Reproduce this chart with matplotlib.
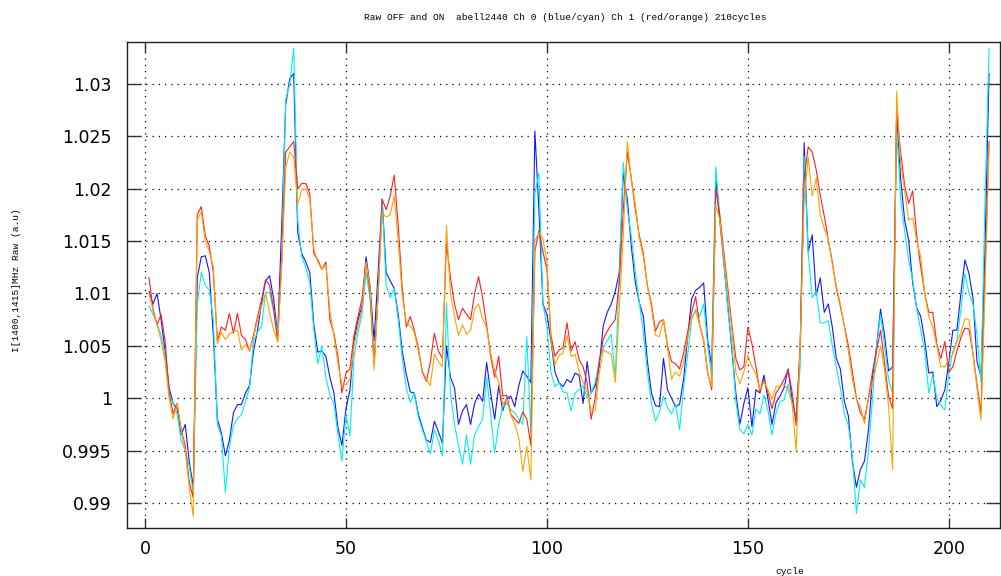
import numpy as np
import matplotlib
matplotlib.use('Agg')
import matplotlib.pyplot as plt

# intensity per cycle, stored as deviation from 1.0 in parts per thousand
ch0_off = [10.2, 9.0, 10.0, 7.5, 4.5, 1.0, -0.5, -1.0, -3.5, -2.5,
           -6.0, -8.5, 11.5, 13.5, 13.6, 12.0, 6.0, -2.0, -3.3, -5.5,
           -4.0, -1.4, -0.6, -0.6, 0.5, 1.2, 4.5, 6.5, 9.1, 11.2,
           11.7, 9.5, 6.0, 16.4, 28.0, 30.5, 31.0, 15.8, 13.8, 13.0,
           12.0, 7.0, 4.4, 4.5, 4.0, 2.0, 0.5, -2.8, -4.5, -1.0,
           0.8, 5.5, 7.5, 8.8, 13.5, 10.7, 5.5, 12.0, 19.0, 12.0,
           11.2, 10.5, 8.0, 4.5, 2.3, 0.6, 0.5, -1.5, -2.8, -4.0,
           -4.2, -2.2, -3.2, -4.3, 5.0, 2.0, 1.0, -2.5, -1.2, -0.6,
           -2.5, -0.5, 0.4, -0.3, 3.4, 0.5, -2.0, 1.2, -1.2, 0.0,
           0.2, -0.8, 1.2, 2.6, 2.1, 1.5, 25.5, 18.0, 9.0, 8.0,
           5.5, 2.5, 1.5, 1.1, 1.8, 1.5, 2.4, 2.2, -0.5, 3.5,
           0.5, 1.2, 3.0, 6.9, 8.2, 9.0, 10.2, 12.0, 21.5, 19.0,
           14.5, 11.0, 9.1, 7.8, 3.5, 0.5, -0.7, -0.8, 3.8, 0.8,
           0.0, -0.8, -0.6, 1.8, 5.8, 9.5, 10.3, 10.6, 11.0, 5.5,
           3.0, 21.0, 17.0, 13.0, 8.8, 4.7, 0.5, -2.5, -0.5, 1.0,
           -2.7, 0.8, 0.5, 2.2, -0.1, -2.5, -0.4, 0.2, 1.0, 2.8,
           -0.1, -2.0, 4.5, 24.4, 14.0, 15.6, 9.8, 11.5, 8.2, 9.0,
           6.8, 3.8, 2.8, -0.3, -1.7, -6.0, -8.5, -6.8, -6.0, -3.0,
           2.0, 4.9, 8.5, 6.0, 2.6, 3.0, 27.0, 21.0, 17.0, 15.1,
           11.0, 8.6, 7.8, 5.5, 2.4, 2.5, -0.8, -0.2, 0.8, 3.5,
           6.5, 6.5, 10.0, 13.2, 11.9, 9.6, 3.5, 2.1, 14.5, 31.0]

ch0_on = [8.8, 8.0, 7.2, 6.0, 4.0, 0.5, -0.5, -1.5, -4.0, -5.0,
          -6.5, -9.0, 9.0, 12.0, 10.8, 10.3, 7.5, -2.5, -3.6, -9.0,
          -4.6, -2.6, -1.9, -1.6, -0.3, 1.0, 5.5, 6.3, 6.9, 10.1,
          10.1, 8.3, 6.2, 13.2, 28.5, 30.0, 33.4, 17.0, 13.5, 12.5,
          11.0, 6.5, 3.3, 5.0, 2.0, 0.3, -0.5, -3.5, -6.0, -1.6,
          -3.6, 4.0, 6.3, 8.0, 12.0, 9.5, 3.7, 10.0, 19.0, 10.8,
          9.6, 10.5, 7.5, 3.8, 1.0, -0.4, 0.5, -1.8, -3.0, -4.1,
          -5.3, -3.0, -4.0, -5.5, 9.1, 0.5, -2.5, -4.5, -6.3, -3.5,
          -6.3, -3.5, -2.7, -2.0, 2.0, -1.5, -5.2, -2.5, -0.8, -0.5,
          -1.1, -1.4, -2.0, -2.5, 5.9, -3.3, 19.5, 21.5, 9.0, 6.8,
          2.5, 1.1, 1.5, 0.6, 0.5, -1.2, 0.5, 0.8, 1.2, 0.0,
          0.5, 1.5, 3.5, 4.8, 5.5, 6.1, 2.0, 12.0, 22.5, 18.0,
          15.5, 12.0, 9.1, 6.2, 2.5, -0.5, -2.2, -1.3, 0.2, -0.9,
          -1.5, -0.6, -3.0, 1.0, 4.1, 7.5, 8.5, 7.8, 9.0, 5.0,
          2.0, 22.1, 17.5, 13.2, 8.5, 5.2, -0.3, -3.0, -3.4, -2.5,
          -3.5, -1.0, -1.5, 0.3, -1.2, -3.5, -1.4, -0.3, -0.2, 1.3,
          -0.5, -2.0, 3.0, 23.1, 13.9, 9.6, 10.2, 7.2, 7.2, 7.4,
          5.0, 3.0, 1.0, -1.5, -2.6, -5.5, -11.0, -7.8, -8.5, -5.0,
          0.0, 4.9, 8.0, 5.0, 1.8, 0.5, 25.9, 19.0, 16.0, 13.2,
          11.3, 8.5, 6.5, 4.5, 0.5, 2.2, 0.0, -0.7, -1.1, 2.4,
          4.5, 5.5, 8.5, 11.9, 10.0, 9.0, 6.0, 1.5, 19.0, 33.4]

ch1_off = [11.5, 8.5, 7.0, 8.0, 5.5, 0.5, -1.5, -0.5, -3.0, -4.5,
           -8.0, -9.5, 17.5, 18.3, 15.5, 14.5, 12.0, 5.5, 6.8, 6.5,
           8.1, 6.2, 8.1, 6.0, 5.6, 4.5, 6.0, 7.8, 9.4, 11.3,
           10.8, 8.5, 5.4, 13.2, 23.5, 24.0, 24.5, 20.0, 20.5, 20.5,
           19.5, 13.8, 13.2, 12.3, 13.0, 7.5, 6.2, 4.0, 0.5, 2.4,
           2.8, 6.0, 7.8, 9.5, 13.0, 10.0, 3.2, 10.0, 19.0, 18.0,
           19.3, 21.3, 16.5, 10.5, 6.8, 7.8, 6.5, 4.8, 2.5, 1.6,
           3.5, 6.2, 4.5, 3.8, 14.8, 11.5, 9.0, 7.5, 8.6, 8.0,
           7.5, 10.0, 11.6, 9.6, 7.0, 4.0, 2.0, 4.0, 0.2, 0.3,
           -1.5, -2.0, -2.4, -1.3, -2.0, -4.5, 14.0, 16.0, 14.0, 12.3,
           6.0, 4.0, 4.6, 4.8, 7.2, 4.5, 5.4, 3.7, 3.0, 1.5,
           -2.0, 0.0, 3.5, 5.6, 6.4, 7.0, 7.5, 11.0, 18.0, 23.5,
           21.0, 18.0, 15.5, 13.8, 10.7, 9.0, 6.4, 7.3, 7.5, 5.0,
           3.5, 3.3, 2.8, 4.3, 6.3, 8.2, 9.7, 7.0, 5.5, 2.5,
           0.8, 20.0, 17.5, 14.0, 10.5, 7.0, 3.8, 2.7, 3.0, 6.8,
           5.2, 3.0, 0.6, 1.8, 0.5, -1.0, 0.5, 1.1, 1.8, 2.7,
           0.6, -2.6, 5.0, 21.0, 24.0, 23.5, 21.8, 19.4, 17.4, 15.1,
           13.0, 10.5, 8.8, 6.9, 5.0, 2.5, 0.0, -1.4, -2.0, 0.0,
           2.5, 4.5, 6.5, 3.4, 0.2, -1.0, 27.5, 23.5, 20.3, 18.6,
           19.8, 15.5, 12.5, 10.0, 8.2, 8.2, 5.2, 3.8, 5.4, 2.5,
           3.0, 4.5, 5.8, 6.7, 6.6, 4.3, 1.3, -1.4, 12.0, 24.5]

ch1_on = [10.0, 8.3, 7.0, 5.5, 3.5, 0.0, -2.0, -0.5, -3.0, -5.0,
          -8.5, -11.3, 17.0, 17.8, 15.0, 14.0, 12.5, 5.2, 6.3, 5.6,
          6.1, 6.4, 6.5, 4.6, 5.1, 4.6, 5.8, 7.5, 8.8, 10.0,
          8.2, 6.5, 5.4, 12.5, 22.0, 23.5, 23.0, 18.5, 19.9, 20.0,
          19.0, 14.3, 13.0, 12.3, 12.8, 8.3, 6.0, 3.3, 1.3, 1.3,
          1.8, 5.0, 6.9, 8.5, 13.0, 10.7, 2.7, 10.0, 17.7, 17.3,
          17.5, 19.3, 15.0, 9.8, 7.3, 6.9, 6.3, 4.5, 2.6, 1.8,
          1.2, 4.2, 3.5, 3.0, 16.5, 10.0, 7.8, 6.0, 7.0, 6.1,
          6.5, 8.5, 9.0, 7.6, 6.7, 4.3, 2.6, 1.5, -0.6, -0.1,
          -1.6, -2.5, -3.8, -7.0, -4.6, -7.8, 15.0, 15.8, 15.2, 13.0,
          5.5, 3.2, 4.1, 4.3, 6.0, 4.0, 4.2, 2.6, 1.5, 0.6,
          -1.2, -1.2, 2.3, 4.6, 4.4, 4.2, 1.5, 8.5, 15.5, 24.5,
          20.8, 18.5, 15.2, 13.5, 10.7, 8.7, 6.0, 5.9, 7.5, 4.8,
          1.8, 2.5, 2.1, 3.4, 5.8, 7.7, 8.3, 7.0, 5.6, 2.3,
          1.1, 18.5, 17.0, 13.5, 10.0, 6.5, 2.5, 1.4, 2.5, 4.1,
          3.0, 2.3, 0.8, 1.6, 0.8, -0.1, 1.1, 1.2, 1.3, 0.8,
          -0.5, -5.0, 5.0, 19.0, 23.0, 19.3, 21.0, 17.5, 16.2, 15.2,
          12.8, 10.7, 9.0, 6.8, 4.5, 1.8, -0.1, -0.8, -2.4, -0.1,
          1.5, 3.2, 5.0, 2.7, -0.8, -6.8, 29.3, 22.4, 19.8, 17.0,
          17.2, 15.0, 13.5, 10.0, 7.8, 6.8, 5.0, 3.0, 3.0, 3.7,
          4.2, 5.4, 6.3, 7.6, 7.5, 4.2, 1.0, -2.1, 10.5, 24.0]

yticks = [0.99, 0.995, 1.0, 1.005, 1.01, 1.015, 1.02, 1.025, 1.03]
ytick_labels = ['0.99', '0.995', '1', '1.005', '1.01', '1.015', '1.02', '1.025', '1.03']
xticks = [0, 50, 100, 150, 200]

title = 'Raw OFF and ON  abell2440 Ch 0 (blue/cyan) Ch 1 (red/orange) 210cycles'

cycles = np.arange(1, len(ch0_off) + 1)

fig = plt.figure(figsize=(10.01, 5.76), dpi=100)
ax = fig.add_axes([127 / 1001, 1 - 528 / 576, 872.5 / 1001, 486 / 576])

series = [(ch0_off, '#1515ff'), (ch0_on, '#00f0f0'),
          (ch1_off, '#ff2020'), (ch1_on, '#ffa200')]
for vals, col in series:
    ax.plot(cycles, 1 + np.array(vals) / 1000.0, color=col, lw=0.8)

ax.set_xlim(-4.48, 212.6)
ax.set_ylim(0.98761, 1.03401)
ax.set_xticks(xticks)
ax.set_yticks(yticks)
ax.set_yticklabels(ytick_labels)

ax.grid(True, color='black', linestyle=(0, (1, 4)), linewidth=0.9)
ax.tick_params(direction='in', top=True, right=True, colors='#333333',
               labelcolor='black', labelsize=12.5)
ax.tick_params(axis='y', length=10, width=1, pad=11)
ax.tick_params(axis='x', length=7, width=1, pad=9)
for sp in ax.spines.values():
    sp.set_color('#222222')
    sp.set_linewidth(1)

mono = 'Liberation Mono'
fig.text(565 / 1001, 1 - 17 / 576, title, ha='center', va='center',
         family=mono, fontsize=6.8)
fig.text(17 / 1001, 1 - 280 / 576, 'I[1400,1415]MHz Raw (a.u)', rotation=90,
         ha='center', va='center', family=mono, fontsize=6.8)
fig.text(790 / 1001, 1 - 571 / 576, 'cycle', ha='center', va='center',
         family=mono, fontsize=6.8)

fig.savefig('out.png', dpi=100)
